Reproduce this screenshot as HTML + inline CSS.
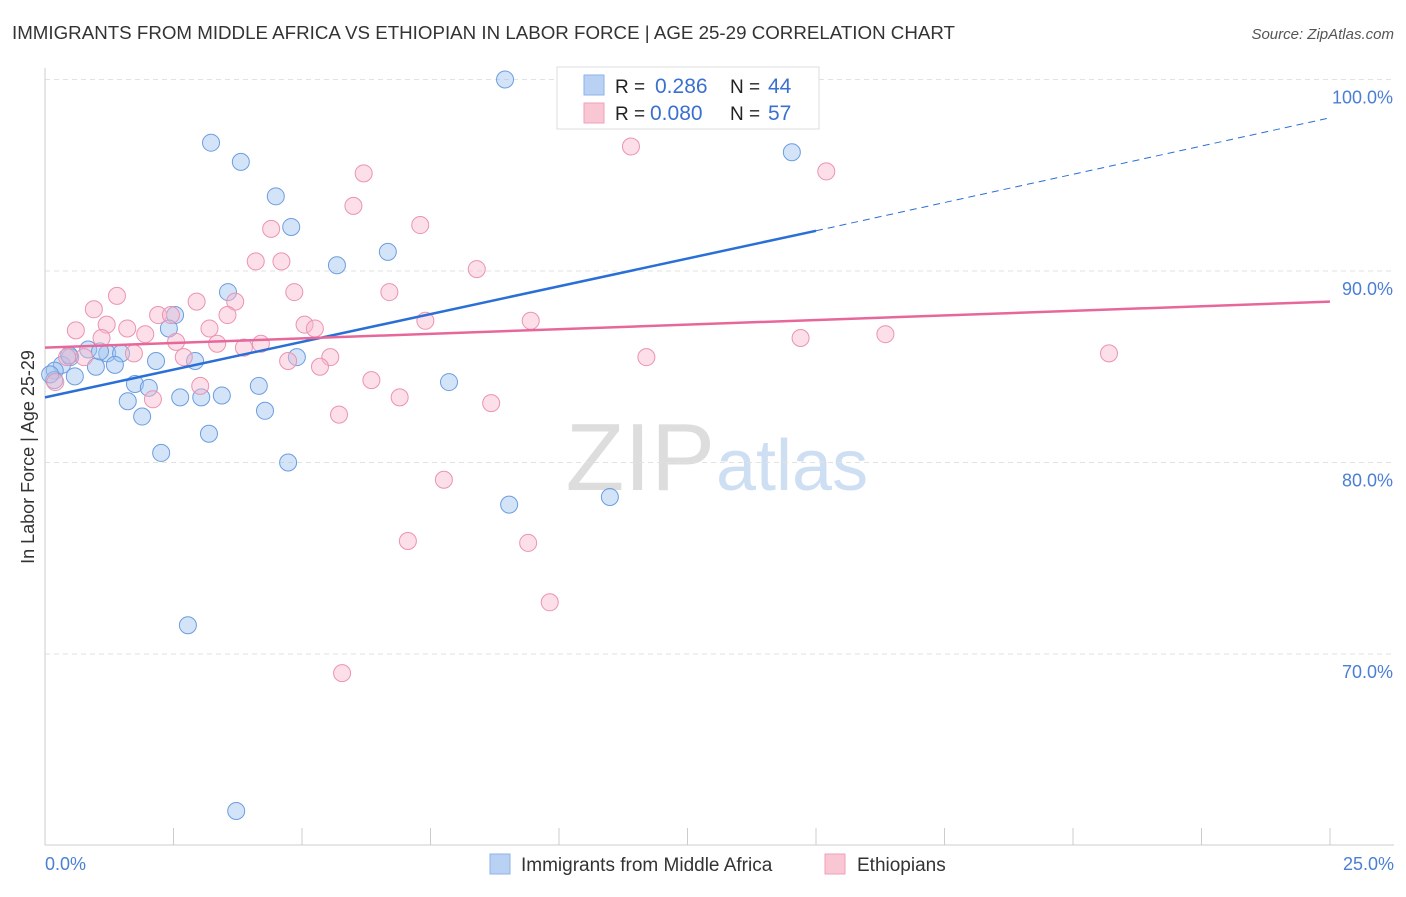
<!DOCTYPE html>
<html><head><meta charset="utf-8"><style>
body{margin:0;background:#fff;font-family:"Liberation Sans",sans-serif;}
svg text{font-family:"Liberation Sans",sans-serif;}
</style></head><body>
<svg width="1406" height="892" xmlns="http://www.w3.org/2000/svg">
<text x="12" y="39" font-size="18" fill="#333" textLength="943" lengthAdjust="spacingAndGlyphs">IMMIGRANTS FROM MIDDLE AFRICA VS ETHIOPIAN IN LABOR FORCE | AGE 25-29 CORRELATION CHART</text>
<text x="1394" y="39" font-size="15" fill="#555" font-style="italic" text-anchor="end">Source: ZipAtlas.com</text>
<text x="715" y="490" font-size="96" fill="#ddd" text-anchor="end" font-family="Liberation Serif">ZIP</text>
<text x="716" y="490" font-size="72" fill="#cfdff3">atlas</text>
<g id="grid"></g>
<line x1="45" y1="68" x2="45" y2="845" stroke="#ccc"/>
<line x1="45" y1="845" x2="1394" y2="845" stroke="#ccc"/>
<g id="xt"></g>
<text x="45" y="870" font-size="18" fill="#4a7fd4">0.0%</text>
<text x="1394" y="870" font-size="18" fill="#4a7fd4" text-anchor="end">25.0%</text>
<text transform="translate(34,457) rotate(-90)" font-size="18" fill="#333" text-anchor="middle">In Labor Force | Age 25-29</text>
<g id="pts"></g>
<g id="lines"></g>
<g>
<rect x="557" y="67" width="262" height="62" fill="#fff" stroke="#ddd"/>
<rect x="584" y="75" width="20" height="20" fill="#b9d1f3" stroke="#8db3ea"/>
<rect x="584" y="103" width="20" height="20" fill="#f9c6d4" stroke="#f0a0b8"/>
<text x="615" y="93" font-size="19" fill="#222">R = </text><text x="655" y="93" font-size="21" fill="#3a70d0">0.286</text>
<text x="730" y="93" font-size="19" fill="#222">N = </text><text x="768" y="93" font-size="21" fill="#3a70d0">44</text>
<text x="615" y="120" font-size="19" fill="#222">R = </text><text x="650" y="120" font-size="21" fill="#3a70d0">0.080</text>
<text x="730" y="120" font-size="19" fill="#222">N = </text><text x="768" y="120" font-size="21" fill="#3a70d0">57</text>
</g>
<g>
<rect x="490" y="854" width="20" height="20" fill="#b9d1f3" stroke="#8db3ea"/>
<text x="521" y="871" font-size="19" fill="#333">Immigrants from Middle Africa</text>
<rect x="825" y="854" width="20" height="20" fill="#f9c6d4" stroke="#f0a0b8"/>
<text x="857" y="871" font-size="19" fill="#333">Ethiopians</text>
</g>
</svg>
<script>
const yTicks=[70,80,90,100];
const blueX=[8.95,3.23,3.81,4.49,4.79,14.53,6.67,5.68,3.56,2.53,2.41,0.84,1.21,1.48,0.49,0.33,1.36,0.99,2.16,2.92,4.9,0.19,0.58,0.18,1.75,2.02,4.16,7.86,1.61,2.63,3.04,3.44,1.89,4.28,3.19,2.26,4.73,9.03,10.99,2.78,3.72,0.47,0.1,1.07];
const blueY=[100.0,96.7,95.7,93.9,92.3,96.2,91.0,90.3,88.9,87.7,87.0,85.9,85.7,85.7,85.5,85.1,85.1,85.0,85.3,85.3,85.5,84.8,84.5,84.3,84.1,83.9,84.0,84.2,83.2,83.4,83.4,83.5,82.4,82.7,81.5,80.5,80.0,77.8,78.2,71.5,61.8,85.6,84.6,85.8];
const pinkX=[11.4,15.2,6.2,6.0,7.3,4.4,4.1,4.6,8.4,1.4,0.95,4.85,6.7,2.95,3.7,2.2,2.45,3.55,0.6,1.2,1.6,1.95,3.2,5.05,5.25,7.4,9.45,1.1,2.55,3.35,3.87,4.2,14.7,16.35,20.7,1.73,2.7,0.43,0.76,4.73,5.55,5.35,11.7,6.35,3.02,2.1,6.9,8.68,5.72,7.76,7.06,9.4,9.82,5.78,11.46,0.2];
const pinkY=[96.5,95.2,95.1,93.4,92.4,92.2,90.5,90.5,90.1,88.7,88.0,88.9,88.9,88.4,88.4,87.7,87.7,87.7,86.9,87.2,87.0,86.7,87.0,87.2,87.0,87.4,87.4,86.5,86.3,86.2,86.0,86.2,86.5,86.7,85.7,85.7,85.5,85.5,85.5,85.3,85.5,85.0,85.5,84.3,84.0,83.3,83.4,83.1,82.5,79.1,75.9,75.8,72.7,69.0,98.3,84.2];
const blueFit=[83.4,92.1,98.0];const blueFitX=[0,15,25];
const pinkFit=[86.0,88.4];
const NS='http://www.w3.org/2000/svg';
const sx=v=>45+v/25*1285, sy=v=>79.5+(100-v)*19.15;
function mk(t,a,p){const e=document.createElementNS(NS,t);for(const k in a)e.setAttribute(k,a[k]);document.getElementById(p).appendChild(e);return e;}
yTicks.forEach(t=>{
 const l=mk('line',{x1:45,x2:1394,y1:sy(t),y2:sy(t),stroke:'#e2e2e2','stroke-dasharray':'5,4'},'grid');
 
 
 const tx=mk('text',{x:1393,y:sy(t)+24,'font-size':18,fill:'#4a7fd4','text-anchor':'end'},'grid');
 tx.textContent=t.toFixed(1)+'%';
 
 
});
for(let i=0;i<=10;i++){
 const l=mk('line',{x1:sx(i*2.5),x2:sx(i*2.5),y1:828,y2:845,stroke:'#ccc'},'xt');
 
 
}
blueX.forEach((x,i)=>{
 const c=mk('circle',{cx:sx(x),cy:sy(blueY[i]),r:8.5,fill:'rgba(160,195,240,0.45)',stroke:'#6c9de0','stroke-width':1},'pts');
 
 
});
pinkX.forEach((x,i)=>{
 const c=mk('circle',{cx:sx(x),cy:sy(pinkY[i]),r:8.5,fill:'rgba(248,185,205,0.45)',stroke:'#ec93b0','stroke-width':1},'pts');
 
 
});
let b=mk('line',{x1:sx(blueFitX[0]),y1:sy(blueFit[0]),x2:sx(blueFitX[1]),y2:sy(blueFit[1]),stroke:'#2a6fd6','stroke-width':2.5},'lines');


b=mk('line',{x1:sx(blueFitX[1]),y1:sy(blueFit[1]),x2:sx(blueFitX[2]),y2:sy(blueFit[2]),stroke:'#2a6fd6','stroke-width':1,'stroke-dasharray':'7,5'},'lines');


b=mk('line',{x1:sx(0),y1:sy(pinkFit[0]),x2:sx(25),y2:sy(pinkFit[1]),stroke:'#e8679a','stroke-width':2.5},'lines');


</script>
</body></html>
